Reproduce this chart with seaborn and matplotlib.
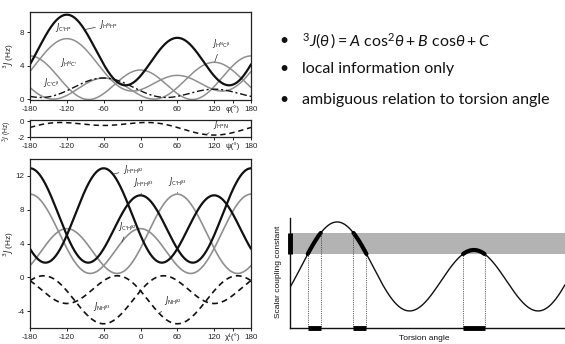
import numpy as np
import pandas as pd
import matplotlib
matplotlib.use("Agg")
import matplotlib.pyplot as plt
import seaborn as sns

# ---------------- data (Karplus coefficients) ----------------
# 3J = A cos^2(theta) + B cos(theta) + C ,  theta = angle + offset
phi_names = ["C'Ha", "HNC'", "HNCb", "C'Cb", "HNHa"]
phi_A = [3.75, 4.32, 3.39, 1.59, 6.98]
phi_B = [2.19, 0.84, -0.94, -0.67, -1.38]
phi_C = [1.28, 0.00, 0.07, 0.27, 1.72]
phi_offset = [120, 180, 60, -120, -60]

psi_names = ["HaN"]
psi_A = [-0.88]
psi_B = [-0.61]
psi_C = [-0.27]
psi_offset = [-120]

chi_names = ["C'Hb2", "C'Hb3", "HaHb2", "HaHb3", "NHb2", "NHb3"]
chi_A = [7.2, 7.2, 9.5, 9.5, -4.4, -4.4]
chi_B = [-2.04, -2.04, -1.6, -1.6, 1.2, 1.2]
chi_C = [0.6, 0.6, 1.8, 1.8, 0.1, 0.1]
chi_offset = [0, 120, -120, 0, 120, -120]

scheme_A, scheme_B, scheme_C = 0.6755, 0.1275, 0.161
scheme_band = [0.673, 0.864]
scheme_xlim = [-62, 300]

x_ticks = [-180, -120, -60, 0, 60, 120, 180]
bullets = ["local information only", "ambiguous relation to torsion angle"]

# ---------------- style ----------------
sns.set_theme(style="white")
plt.rcParams['font.family'] = ['Liberation Sans', 'DejaVu Sans']
plt.rcParams['axes.unicode_minus'] = False
plt.rcParams['mathtext.fontset'] = 'dejavusans'
plt.rcParams['mathtext.rm'] = 'Lato'
plt.rcParams['mathtext.it'] = 'Lato:italic'
plt.rcParams['mathtext.bf'] = 'Lato:bold'
plt.rcParams['mathtext.fallback'] = 'stixsans'

W, H = 565, 344
fig = plt.figure(figsize=(W / 100, H / 100), dpi=100)


def frac(l, t, r, b):
    return [l / W, 1 - b / H, (r - l) / W, (b - t) / H]


def karplus_frame(names, A, B, C, off):
    ang = np.arange(-180, 180.5, 1.0)
    rows = []
    for n, a, b, c, o in zip(names, A, B, C, off):
        th = np.deg2rad(ang + o)
        rows.append(pd.DataFrame({"angle": ang,
                                  "J": a * np.cos(th) ** 2 + b * np.cos(th) + c,
                                  "curve": n}))
    return pd.concat(rows, ignore_index=True)


def style_axis(ax, yticks, ylim, unit_label):
    ax.set_xlim(-180, 180)
    ax.set_ylim(*ylim)
    ticks = x_ticks[:-1] + [150, 180]
    labels = [str(t) for t in x_ticks[:-1]] + [unit_label, "180"]
    ax.set_xticks(ticks)
    ax.set_xticklabels(labels)
    ax.xaxis.get_major_ticks()[6].tick1line.set_visible(False)
    ax.set_yticks(yticks)
    ax.set_yticklabels([str(t) for t in yticks])
    ax.tick_params(direction='out', length=2.5, width=0.7, labelsize=5.8,
                   pad=1.5, colors='#222', bottom=True, left=True)
    for s in ax.spines.values():
        s.set_linewidth(0.9)
        s.set_color('#222')
    ax.set_xlabel("")
    ax.set_ylabel("")


lab_kw = dict(fontsize=5.5, color='#222', math_fontfamily='dejavusans',
              arrowprops=dict(arrowstyle='-', color='#333', lw=0.5,
                              shrinkA=0.5, shrinkB=0))

# ---------------- panel 1: phi ----------------
ax1 = fig.add_axes(frac(30, 12, 251, 100))
d1 = karplus_frame(phi_names, phi_A, phi_B, phi_C, phi_offset)
sns.lineplot(data=d1, x="angle", y="J", hue="curve", style="curve", size="curve",
             hue_order=phi_names, style_order=phi_names, size_order=phi_names,
             palette={"C'Ha": '#8f8f8f', "HNC'": '#8f8f8f', "HNCb": '#8f8f8f',
                      "C'Cb": '#111111', "HNHa": '#111111'},
             dashes={"C'Ha": '', "HNC'": '', "HNCb": '', "C'Cb": (5, 2, 1.5, 2),
                     "HNHa": ''},
             sizes={"C'Ha": 1.1, "HNC'": 1.1, "HNCb": 1.1, "C'Cb": 1.0,
                    "HNHa": 1.6},
             estimator=None, sort=False, legend=False, ax=ax1)
style_axis(ax1, [0, 4, 8], (-0.1, 10.4), "φ(°)")
ax1.set_ylabel(r"$^{3}J$ (Hz)", fontsize=6, math_fontfamily='dejavusans')
ax1.yaxis.set_label_coords(-0.062, 0.5)
ax1.annotate(r"$J_{\mathrm{H^NH^{\alpha}}}$", xy=(-91, 8.3), xytext=(-67, 8.9),
             ha='left', va='center', **lab_kw)
ax1.text(-140, 8.5, r"$J_{\mathrm{C'H^{\alpha}}}$", ha='left', va='center',
         fontsize=5.5, color='#222', math_fontfamily='dejavusans')
ax1.text(-131, 4.35, r"$J_{\mathrm{H^NC'}}$", ha='left', va='center',
         fontsize=5.5, color='#222', math_fontfamily='dejavusans')
ax1.annotate(r"$J_{\mathrm{C'C^{\beta}}}$", xy=(-128, 0.75), xytext=(-159, 2.0),
             ha='left', va='center', **lab_kw)
ax1.annotate(r"$J_{\mathrm{H^NC^{\beta}}}$", xy=(121, 4.45), xytext=(116, 6.6),
             ha='left', va='center', **lab_kw)

# ---------------- panel 2: psi ----------------
ax2 = fig.add_axes(frac(30, 120, 251, 137))
d2 = karplus_frame(psi_names, psi_A, psi_B, psi_C, psi_offset)
sns.lineplot(data=d2, x="angle", y="J", color='#111111', linewidth=1.1,
             linestyle=(0, (3.5, 2.5)), estimator=None, sort=False, ax=ax2)
style_axis(ax2, [0, -2], (-2.0, 0.15), "ψ(°)")
ax2.set_ylabel(r"$^{3}J$ (Hz)", fontsize=4.8, math_fontfamily='dejavusans')
ax2.yaxis.set_label_coords(-0.072, 0.3)
ax2.annotate(r"$J_{\mathrm{H^{\alpha}N}}$", xy=(108, -1.65), xytext=(118, -0.45),
             ha='left', va='center', **lab_kw)

# ---------------- panel 3: chi1 ----------------
ax3 = fig.add_axes(frac(30, 159, 251, 328))
d3 = karplus_frame(chi_names, chi_A, chi_B, chi_C, chi_offset)
sns.lineplot(data=d3, x="angle", y="J", hue="curve", style="curve", size="curve",
             hue_order=chi_names, style_order=chi_names, size_order=chi_names,
             palette={"C'Hb2": '#8f8f8f', "C'Hb3": '#8f8f8f', "HaHb2": '#111111',
                      "HaHb3": '#111111', "NHb2": '#111111', "NHb3": '#111111'},
             dashes={"C'Hb2": '', "C'Hb3": '', "HaHb2": '', "HaHb3": '',
                     "NHb2": (3.5, 2.5), "NHb3": (3.5, 2.5)},
             sizes={"C'Hb2": 1.2, "C'Hb3": 1.2, "HaHb2": 1.6, "HaHb3": 1.6,
                    "NHb2": 1.2, "NHb3": 1.2},
             estimator=None, sort=False, legend=False, ax=ax3)
style_axis(ax3, [-4, 0, 4, 8, 12], (-6, 14), "χ¹(°)")
ax3.set_ylabel(r"$^{3}J$ (Hz)", fontsize=6, math_fontfamily='dejavusans')
ax3.yaxis.set_label_coords(-0.062, 0.5)
ax3.annotate(r"$J_{\mathrm{H^{\alpha}H^{\beta2}}}$", xy=(-45, 12.2), xytext=(-29, 12.8),
             ha='left', va='center', **lab_kw)
ax3.annotate(r"$J_{\mathrm{H^{\alpha}H^{\beta3}}}$", xy=(1, 9.9), xytext=(5, 11.2),
             ha='center', va='center', **lab_kw)
ax3.annotate(r"$J_{\mathrm{C'H^{\beta3}}}$", xy=(60, 10.0), xytext=(61, 11.3),
             ha='center', va='center', **lab_kw)
ax3.annotate(r"$J_{\mathrm{C'H^{\beta2}}}$", xy=(-30, 4.2), xytext=(-36, 6.0),
             ha='left', va='center', **lab_kw)
ax3.annotate(r"$J_{\mathrm{NH^{\beta3}}}$", xy=(-86, -4.6), xytext=(-78, -3.4),
             ha='left', va='center', **lab_kw)
ax3.annotate(r"$J_{\mathrm{NH^{\beta2}}}$", xy=(30, -4.3), xytext=(38, -2.8),
             ha='left', va='center', **lab_kw)

# ---------------- right text ----------------
tfont = ['Lato', 'DejaVu Sans']
tsize = 11.5
for y in (41, 69, 100):
    fig.text(284 / W, 1 - y / H, "•", fontsize=tsize, family=tfont,
             ha='center', va='center', color='#111')
fig.text(302 / W, 1 - 41 / H,
         r"$^{3}\mathit{J}(\mathit{\theta}\,) = \mathit{A}\ \mathrm{cos}^{2}\mathit{\theta}"
         r" + \mathit{B}\ \mathrm{cos}\mathit{\theta} + \mathit{C}$",
         fontsize=tsize, family=tfont, math_fontfamily='custom',
         ha='left', va='center', color='#111')
fig.text(302 / W, 1 - 69 / H, bullets[0], fontsize=tsize, family=tfont,
         ha='left', va='center', color='#111')
fig.text(302 / W, 1 - 100 / H, bullets[1], fontsize=tsize, family=tfont,
         ha='left', va='center', color='#111')

# ---------------- schematic ----------------
ax4 = fig.add_axes(frac(290, 218, 565, 328))
sang = np.arange(scheme_xlim[0], scheme_xlim[1] + 0.5, 0.5)


def sJ(a):
    c = np.cos(np.deg2rad(a))
    return scheme_A * c ** 2 + scheme_B * c + scheme_C


ax4.axhspan(scheme_band[0], scheme_band[1], color='#b3b3b3', lw=0, zorder=0)
sns.lineplot(x=sang, y=sJ(sang), color='#111', linewidth=1.0,
             estimator=None, sort=False, ax=ax4)

# crossings of the curve with the band edges
def cross(v):
    disc = np.sqrt(scheme_B ** 2 - 4 * scheme_A * (scheme_C - v))
    out = []
    for c in ((-scheme_B + disc) / (2 * scheme_A), (-scheme_B - disc) / (2 * scheme_A)):
        if -1 <= c <= 1:
            t = np.rad2deg(np.arccos(c))
            for a in (t, -t, 360 - t):
                if scheme_xlim[0] <= a <= scheme_xlim[1]:
                    out.append(a)
    return out

pts = sorted(set(np.round(cross(scheme_band[0]) + cross(scheme_band[1]), 3)))
segs = [(pts[0], pts[1]), (pts[2], pts[3]), (pts[4], pts[5])]
for a0, a1 in segs:
    s = np.linspace(a0, a1, 60)
    sns.lineplot(x=s, y=sJ(s), color='#000', linewidth=3.0,
                 estimator=None, sort=False, ax=ax4)
    ax4.plot([a0, a1], [0, 0], color='#000', lw=3.5, solid_capstyle='butt',
             clip_on=False, zorder=5)
for p in pts:
    ax4.plot([p, p], [0, sJ(p)], color='#333', lw=0.6, ls=(0, (1, 1.2)), zorder=3)
ax4.plot([scheme_xlim[0], scheme_xlim[0]], scheme_band, color='#000', lw=3.5,
         solid_capstyle='butt', clip_on=False, zorder=5)
ax4.set_xlim(*scheme_xlim)
ax4.set_ylim(0, 1)
ax4.set_xticks([])
ax4.set_yticks([])
for k in ('top', 'right'):
    ax4.spines[k].set_visible(False)
for k in ('left', 'bottom'):
    ax4.spines[k].set_linewidth(1.0)
    ax4.spines[k].set_color('#111')
ax4.set_xlabel("")
ax4.set_ylabel("")
fig.text(278 / W, 1 - 272 / H, "Scalar coupling constant", rotation=90,
         fontsize=6, ha='center', va='center', color='#111')
fig.text(424 / W, 1 - 338 / H, "Torsion angle", fontsize=6,
         ha='center', va='center', color='#111')

fig.savefig("out.png", dpi=100, facecolor='white')
